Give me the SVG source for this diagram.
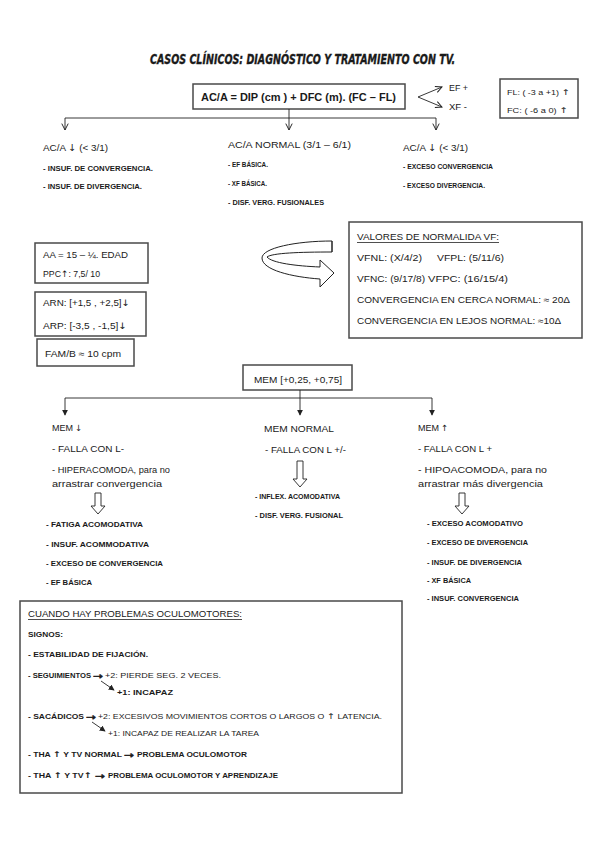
<svg xmlns="http://www.w3.org/2000/svg" width="599" height="848" viewBox="0 0 599 848">
<style>
text{font-family:"Liberation Sans","DejaVu Sans",sans-serif;fill:#1a1a1a;}
.h{font-size:9.5px;}
.m{font-size:8.8px;}
.s{font-size:7px;font-weight:bold;}
.sr{font-size:7px;}
.t{font-family:"DejaVu Sans Condensed","DejaVu Sans",sans-serif;font-size:14px;font-weight:bold;font-style:italic;stroke:#1a1a1a;stroke-width:0.35;}
.f{font-size:10.5px;font-weight:bold;}
.ar{font-family:"DejaVu Sans",sans-serif;}
.bar{font-family:"DejaVu Sans",sans-serif;font-size:9px;stroke:#1a1a1a;stroke-width:0.5;}
.box{fill:#fff;stroke:#4a4a4a;stroke-width:1.5;}
.ln{fill:none;stroke:#222;stroke-width:0.9;}
.hol{fill:#fff;stroke:#222;stroke-width:0.9;}
.ul{stroke:#222;stroke-width:0.8;}
</style>
<defs>
<marker id="tri" viewBox="0 0 8 8" refX="7" refY="4" markerWidth="6" markerHeight="6" orient="auto" markerUnits="userSpaceOnUse">
<path d="M0,0 L8,4 L0,8 Z" fill="#222"/>
</marker>
<marker id="chev" viewBox="0 0 10 10" refX="9" refY="5" markerWidth="8" markerHeight="8" orient="auto" markerUnits="userSpaceOnUse">
<path d="M1,1 L9,5 L1,9" fill="none" stroke="#222" stroke-width="1.2"/>
</marker>
</defs>
<rect width="599" height="848" fill="#fff"/>

<text id="title" class="t" x="150" y="64" textLength="305" lengthAdjust="spacingAndGlyphs">CASOS CLÍNICOS: DIAGNÓSTICO Y TRATAMIENTO CON TV.</text>

<g id="formula">
<rect class="box" x="193" y="84" width="212" height="25"/>
<text class="f" x="201" y="101" textLength="195" lengthAdjust="spacingAndGlyphs">AC/A = DIP (cm ) + DFC (m). (FC – FL)</text>
</g>
<g id="ef-xf">
<text class="m" x="449" y="91" textLength="19" lengthAdjust="spacingAndGlyphs">EF +</text>
<text class="m" x="449" y="110" textLength="18" lengthAdjust="spacingAndGlyphs">XF -</text>
</g>
<g id="fl-fc">
<rect class="box" x="500" y="79" width="78" height="39"/>
<text class="sr" x="507" y="95" textLength="63" lengthAdjust="spacingAndGlyphs">FL: ( -3 a +1) <tspan class="ar" font-size="8">↑</tspan></text>
<text class="sr" x="507" y="113" textLength="61" lengthAdjust="spacingAndGlyphs">FC: ( -6 a 0) <tspan class="ar" font-size="8">↑</tspan></text>
</g>

<g id="aca-low">
<text class="h" x="43" y="151" textLength="65" lengthAdjust="spacingAndGlyphs">AC/A <tspan class="ar" font-size="9.5">↓</tspan> (&lt; 3/1)</text>
<text class="s" x="43" y="171" textLength="110" lengthAdjust="spacingAndGlyphs">- INSUF. DE CONVERGENCIA.</text>
<text class="s" x="43" y="189" textLength="99" lengthAdjust="spacingAndGlyphs">- INSUF. DE DIVERGENCIA.</text>
</g>
<g id="aca-normal">
<text class="h" x="228" y="148" textLength="123" lengthAdjust="spacingAndGlyphs">AC/A NORMAL (3/1 – 6/1)</text>
<text class="s" x="228" y="167" textLength="40" lengthAdjust="spacingAndGlyphs">- EF BÁSICA.</text>
<text class="s" x="228" y="186" textLength="39" lengthAdjust="spacingAndGlyphs">- XF BÁSICA.</text>
<text class="s" x="228" y="205" textLength="96" lengthAdjust="spacingAndGlyphs">- DISF. VERG. FUSIONALES</text>
</g>
<g id="aca-high">
<text class="h" x="403" y="151" textLength="65" lengthAdjust="spacingAndGlyphs">AC/A <tspan class="ar" font-size="9.5">↓</tspan> (&lt; 3/1)</text>
<text class="s" x="403" y="169" textLength="90" lengthAdjust="spacingAndGlyphs">- EXCESO CONVERGENCIA</text>
<text class="s" x="403" y="188" textLength="82" lengthAdjust="spacingAndGlyphs">- EXCESO DIVERGENCIA.</text>
</g>

<g id="aa-ppc">
<rect class="box" x="35" y="243" width="113" height="40"/>
<text class="m" x="43" y="258" textLength="85" lengthAdjust="spacingAndGlyphs">AA = 15 – ¼. EDAD</text>
<text class="m" x="43" y="277" textLength="57" lengthAdjust="spacingAndGlyphs">PPC<tspan class="ar" font-size="9">↑</tspan>: 7,5/ 10</text>
</g>
<g id="arn-arp">
<rect class="box" x="35" y="292" width="111" height="44"/>
<text class="m" x="43" y="306" textLength="87" lengthAdjust="spacingAndGlyphs">ARN: [+1,5 , +2,5]<tspan class="ar" font-size="9">↓</tspan></text>
<text class="m" x="43" y="329" textLength="84" lengthAdjust="spacingAndGlyphs">ARP: [-3,5 , -1,5]<tspan class="ar" font-size="9">↓</tspan></text>
</g>
<g id="fam">
<rect class="box" x="37" y="339" width="97" height="27"/>
<text class="m" x="45" y="357" textLength="76" lengthAdjust="spacingAndGlyphs">FAM/B ≈ 10 cpm</text>
</g>

<g id="curved-arrow">
<path d="M332,241 C296,241 262,248 262,258 C262,270 292,277 320,279 L320,287 L334,273 L320,260 L320,267 C296,266 272,263 267,257 C272,253 300,252 332,252 Z" fill="#fff" stroke="#222" stroke-width="1"/>
<path d="M332,241 V252" fill="none" stroke="#222" stroke-width="1"/>
</g>

<g id="vf">
<rect class="box" x="349" y="222" width="233" height="116"/>
<text class="m" x="357" y="240" textLength="142" lengthAdjust="spacingAndGlyphs">VALORES DE NORMALIDA VF:</text>
<line class="ul" x1="357" y1="242.5" x2="499" y2="242.5"/>
<text class="m" x="357" y="261" textLength="65" lengthAdjust="spacingAndGlyphs">VFNL: (X/4/2)</text>
<text class="m" x="437" y="261" textLength="67" lengthAdjust="spacingAndGlyphs">VFPL: (5/11/6)</text>
<text class="m" x="357" y="282" textLength="68" lengthAdjust="spacingAndGlyphs">VFNC: (9/17/8)</text>
<text class="m" x="428" y="282" textLength="80" lengthAdjust="spacingAndGlyphs">VFPC: (16/15/4)</text>
<text class="m" x="357" y="303" textLength="213" lengthAdjust="spacingAndGlyphs">CONVERGENCIA EN CERCA NORMAL: ≈ 20Δ</text>
<text class="m" x="357" y="324" textLength="204" lengthAdjust="spacingAndGlyphs">CONVERGENCIA EN LEJOS NORMAL: ≈10Δ</text>
</g>

<g id="mem">
<rect class="box" x="243" y="365" width="109" height="25"/>
<text class="m" x="254" y="383" textLength="88" lengthAdjust="spacingAndGlyphs">MEM [+0,25, +0,75]</text>
</g>

<g id="mem-low">
<text class="m" x="52" y="431" textLength="21" lengthAdjust="spacingAndGlyphs">MEM</text>
<text class="ar" x="75" y="431" font-size="8.5">↓</text>
<text class="m" x="52" y="452" textLength="72" lengthAdjust="spacingAndGlyphs">- FALLA CON L-</text>
<text class="m" x="52" y="473" textLength="118" lengthAdjust="spacingAndGlyphs">- HIPERACOMODA, para no</text>
<text class="m" x="52" y="487" textLength="110" lengthAdjust="spacingAndGlyphs">arrastrar convergencia</text>
<text class="s" x="46" y="527" textLength="97" lengthAdjust="spacingAndGlyphs">- FATIGA ACOMODATIVA</text>
<text class="s" x="46" y="547" textLength="103" lengthAdjust="spacingAndGlyphs">- INSUF. ACOMMODATIVA</text>
<text class="s" x="46" y="566" textLength="117" lengthAdjust="spacingAndGlyphs">- EXCESO DE CONVERGENCIA</text>
<text class="s" x="46" y="585" textLength="46" lengthAdjust="spacingAndGlyphs">- EF BÁSICA</text>
</g>
<g id="mem-normal">
<text class="m" x="264" y="432" textLength="70" lengthAdjust="spacingAndGlyphs">MEM NORMAL</text>
<text class="m" x="265" y="453" textLength="81" lengthAdjust="spacingAndGlyphs">- FALLA CON L +/-</text>
<text class="s" x="255" y="499" textLength="85" lengthAdjust="spacingAndGlyphs">- INFLEX. ACOMODATIVA</text>
<text class="s" x="255" y="518" textLength="88" lengthAdjust="spacingAndGlyphs">- DISF. VERG. FUSIONAL</text>
</g>
<g id="mem-high">
<text class="m" x="418" y="431" textLength="21" lengthAdjust="spacingAndGlyphs">MEM</text>
<text class="ar" x="441" y="431" font-size="8.5">↑</text>
<text class="m" x="418" y="452" textLength="74" lengthAdjust="spacingAndGlyphs">- FALLA CON L +</text>
<text class="m" x="418" y="473" textLength="129" lengthAdjust="spacingAndGlyphs">- HIPOACOMODA, para no</text>
<text class="m" x="418" y="487" textLength="125" lengthAdjust="spacingAndGlyphs">arrastrar más divergencia</text>
<text class="s" x="427" y="526" textLength="96" lengthAdjust="spacingAndGlyphs">- EXCESO ACOMODATIVO</text>
<text class="s" x="427" y="545" textLength="101" lengthAdjust="spacingAndGlyphs">- EXCESO DE DIVERGENCIA</text>
<text class="s" x="427" y="565" textLength="95" lengthAdjust="spacingAndGlyphs">- INSUF. DE DIVERGENCIA</text>
<text class="s" x="427" y="583" textLength="44" lengthAdjust="spacingAndGlyphs">- XF BÁSICA</text>
<text class="s" x="427" y="601" textLength="92" lengthAdjust="spacingAndGlyphs">- INSUF. CONVERGENCIA</text>
</g>

<g id="oculomotores">
<rect class="box" x="20" y="601" width="382" height="192"/>
<text class="m" x="28" y="617" textLength="214" lengthAdjust="spacingAndGlyphs">CUANDO HAY PROBLEMAS OCULOMOTORES:</text>
<line class="ul" x1="28" y1="619.5" x2="242" y2="619.5"/>
<text class="s" x="28" y="637" textLength="35" lengthAdjust="spacingAndGlyphs">SIGNOS:</text>
<text class="s" x="28" y="657" textLength="120" lengthAdjust="spacingAndGlyphs">- ESTABILIDAD DE FIJACIÓN.</text>
<text class="s" x="28" y="678" textLength="63" lengthAdjust="spacingAndGlyphs">- SEGUIMIENTOS</text>
<text class="bar" x="93" y="679" textLength="10" lengthAdjust="spacingAndGlyphs">→</text>
<text class="sr" x="105" y="678" textLength="116" lengthAdjust="spacingAndGlyphs">+2: PIERDE SEG. 2 VECES.</text>
<text class="s" x="117" y="695" textLength="56" lengthAdjust="spacingAndGlyphs">+1: INCAPAZ</text>
<text class="s" x="28" y="719" textLength="56" lengthAdjust="spacingAndGlyphs">- SACÁDICOS</text>
<text class="bar" x="86" y="720" textLength="10" lengthAdjust="spacingAndGlyphs">→</text>
<text class="sr" x="98" y="719" textLength="284" lengthAdjust="spacingAndGlyphs">+2: EXCESIVOS MOVIMIENTOS CORTOS O LARGOS O <tspan class="ar" font-size="8">↑</tspan> LATENCIA.</text>
<text class="sr" x="108" y="736" textLength="151" lengthAdjust="spacingAndGlyphs">+1: INCAPAZ DE REALIZAR LA TAREA</text>
<text class="s" x="28" y="757" textLength="94" lengthAdjust="spacingAndGlyphs">- THA <tspan class="ar" font-size="8">↑</tspan> Y TV NORMAL</text>
<text class="bar" x="124" y="758" textLength="10" lengthAdjust="spacingAndGlyphs">→</text>
<text class="s" x="137" y="757" textLength="110" lengthAdjust="spacingAndGlyphs">PROBLEMA OCULOMOTOR</text>
<text class="s" x="28" y="778" textLength="64" lengthAdjust="spacingAndGlyphs">- THA <tspan class="ar" font-size="8">↑</tspan> Y TV<tspan class="ar" font-size="8">↑</tspan></text>
<text class="bar" x="95" y="779" textLength="10" lengthAdjust="spacingAndGlyphs">→</text>
<text class="s" x="108" y="778" textLength="170" lengthAdjust="spacingAndGlyphs">PROBLEMA OCULOMOTOR Y APRENDIZAJE</text>
</g>

<g id="connectors">
<path class="ln" d="M289,109 V130" marker-end="url(#chev)"/>
<path class="ln" d="M65,118 H436"/>
<path class="ln" d="M65,118 V130" marker-end="url(#chev)"/>
<path class="ln" d="M436,118 V130" marker-end="url(#chev)"/>
<path class="ln" d="M418,97 L442,87" marker-end="url(#chev)"/>
<path class="ln" d="M418,97 L442,107" marker-end="url(#chev)"/>
<path class="ln" d="M300,390 V415" marker-end="url(#tri)"/>
<path class="ln" d="M65,398 H432"/>
<path class="ln" d="M65,398 V415" marker-end="url(#tri)"/>
<path class="ln" d="M432,398 V415" marker-end="url(#tri)"/>
<path class="hol" d="M297,461 H303 V479 H307 L300,487 L293,479 H297 Z"/>
<path class="hol" d="M95,493 H101 V506 H105 L98,514 L91,506 H95 Z"/>
<path class="hol" d="M459,493 H465 V506 H469 L462,514 L455,506 H459 Z"/>
<path class="ln" d="M101,681 L114,690" marker-end="url(#tri)" stroke-width="1.2"/>
<path class="ln" d="M92,722 L105,731" marker-end="url(#tri)" stroke-width="1.2"/>
</g>
</svg>
